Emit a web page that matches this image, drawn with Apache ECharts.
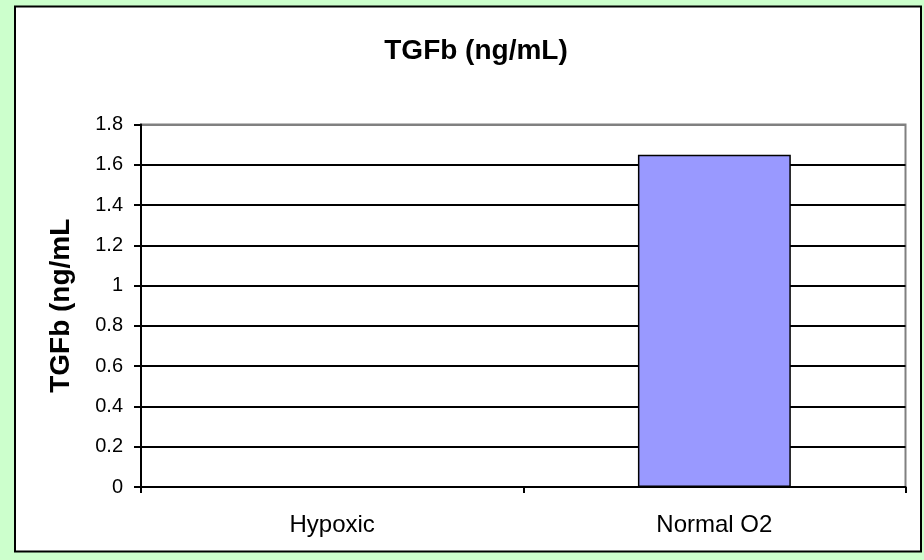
<!DOCTYPE html>
<html>
<head>
<meta charset="utf-8">
<script src="https://cdn.jsdelivr.net/npm/echarts@6/dist/echarts.min.js"></script>
<style>html,body{margin:0;padding:0;background:#CCFFCC;}#c{width:924px;height:560px;}</style>
</head>
<body>
<div id="c"></div>
<script>
const categories = ['Hypoxic', 'Normal O2'];
const values = [0, 1.65];
const titleText = 'TGFb (ng/mL)';
const yAxisName = 'TGFb (ng/mL';

const chart = echarts.init(document.getElementById('c'), null, {renderer: 'canvas'});
const font = '"Liberation Sans", Arial, sans-serif';
const splitColors = ['#000','#000','#000','#000','#000','#000','#000','#000','#000','#808080'];
chart.setOption({
  backgroundColor: '#CCFFCC',
  animation: false,
  graphic: [{
    type: 'rect', z: -10, silent: true,
    shape: {x: 15, y: 6.5, width: 906, height: 545},
    style: {fill: '#fff', stroke: '#000', lineWidth: 2}
  }],
  title: {
    text: titleText, left: 471, top: 32, textAlign: 'center',
    textStyle: {fontFamily: font, fontWeight: 'bold', fontSize: 28, color: '#000'}
  },
  grid: {left: 141, right: 18.5, top: 124.5, bottom: 73, show: true, backgroundColor: '#fff', borderColor: '#808080', borderWidth: 2},
  xAxis: {
    type: 'category', data: categories,
    axisLine: {lineStyle: {color: '#000', width: 2}},
    axisTick: {show: true, length: 6, lineStyle: {color: '#000', width: 2}},
    axisLabel: {fontFamily: font, fontSize: 24, color: '#000', margin: 26}
  },
  yAxis: {
    type: 'value', min: 0, max: 1.8, interval: 0.2,
    name: yAxisName, nameLocation: 'middle', nameGap: 66, nameRotate: 90,
    nameTextStyle: {fontFamily: font, fontWeight: 'bold', fontSize: 28, color: '#000'},
    axisLine: {show: true, lineStyle: {color: '#000', width: 2}},
    axisTick: {show: true, length: 7, lineStyle: {color: '#000', width: 2}},
    axisLabel: {fontFamily: font, fontSize: 20, color: '#000', margin: 18,
      formatter: v => String(Math.round(v * 10) / 10)},
    splitLine: {show: true, lineStyle: {color: splitColors, width: 2}}
  },
  series: [{
    type: 'bar', data: values, barWidth: '40%',
    itemStyle: {color: '#9999FF', borderColor: '#000', borderWidth: 1.5}
  }]
});
</script>
</body>
</html>
